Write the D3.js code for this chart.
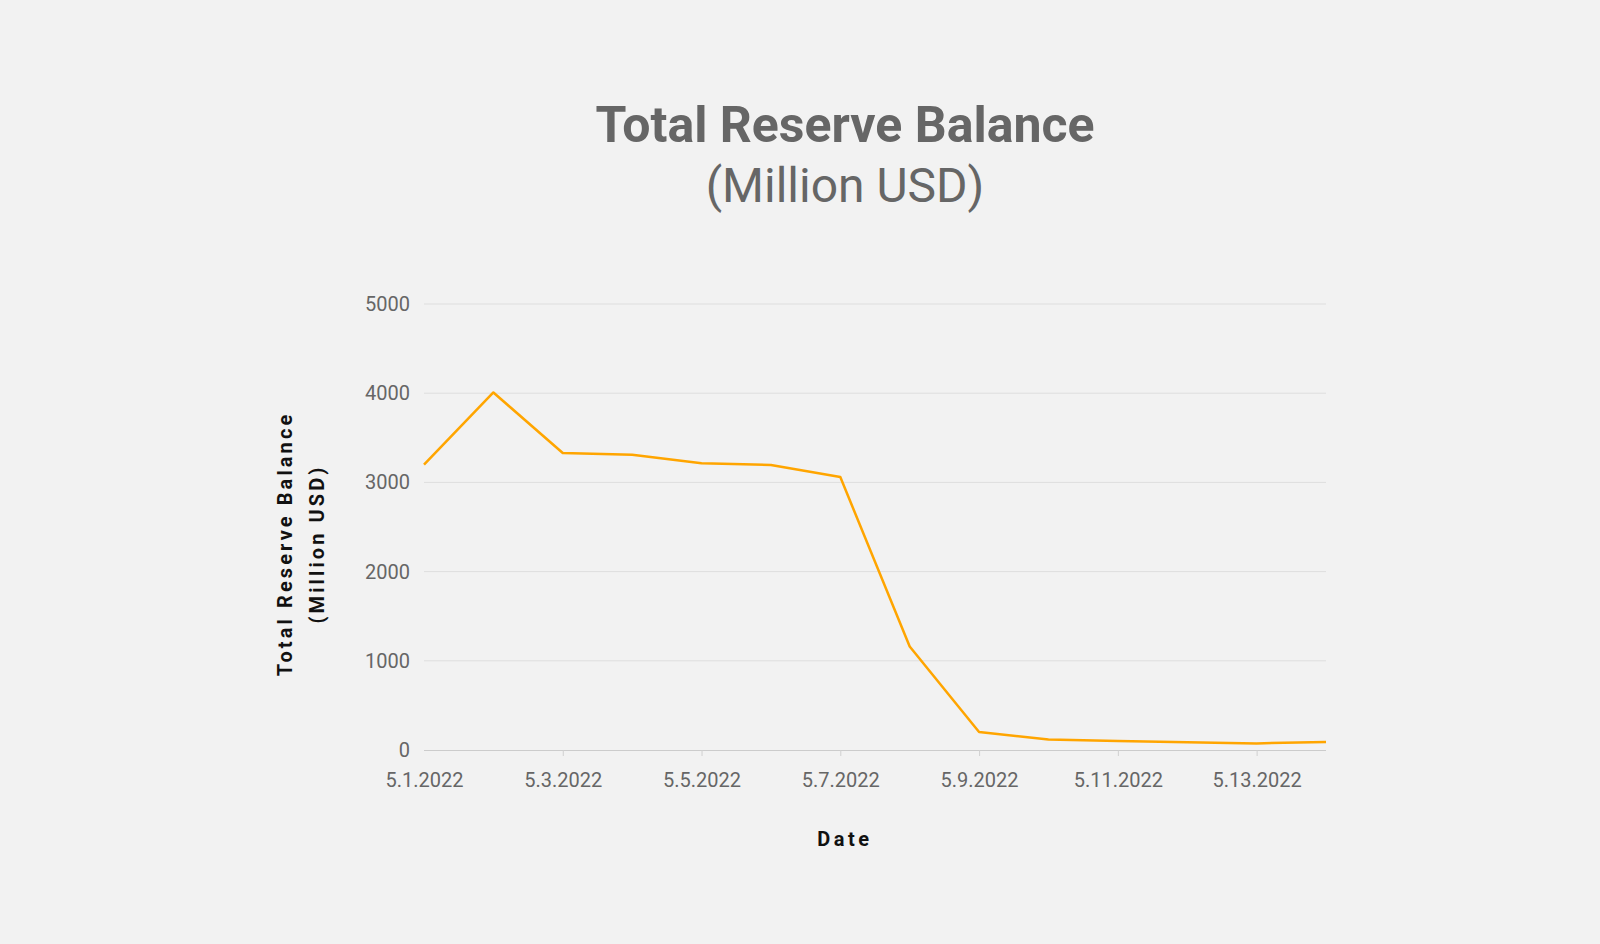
<!DOCTYPE html>
<html>
<head>
<meta charset="utf-8">
<script src="https://cdn.jsdelivr.net/npm/d3@7"></script>
<style>
  html, body { margin: 0; padding: 0; background: #f2f2f2; }
  svg { display: block; }
</style>
</head>
<body>
<svg id="chart" width="1600" height="944"></svg>
<script>
const dates = ["5.1.2022","5.2.2022","5.3.2022","5.4.2022","5.5.2022","5.6.2022","5.7.2022",
               "5.8.2022","5.9.2022","5.10.2022","5.11.2022","5.12.2022","5.13.2022","5.14.2022"];
const balance = [3198, 4008, 3330, 3310, 3215, 3195, 3060, 1160, 202, 117, 100, 87, 74, 90];
const yTicks = [0, 1000, 2000, 3000, 4000, 5000];
const xTickLabels = ["5.1.2022","5.3.2022","5.5.2022","5.7.2022","5.9.2022","5.11.2022","5.13.2022"];

const svg = d3.select("#chart");
const W = 1600, H = 944;
const margin = { left: 424, right: 1600 - 1326, top: 304, bottom: 944 - 750 };

svg.append("rect").attr("width", W).attr("height", H).attr("fill", "#f2f2f2");

const x = d3.scalePoint().domain(dates).range([margin.left, W - margin.right]).padding(0);
const y = d3.scaleLinear().domain([0, 5000]).range([H - margin.bottom, margin.top]);

const font = "Roboto, 'Noto Sans', sans-serif";

// Gridlines
svg.append("g")
  .selectAll("line")
  .data(yTicks.filter(d => d > 0))
  .join("line")
  .attr("x1", margin.left).attr("x2", W - margin.right)
  .attr("y1", d => y(d)).attr("y2", d => y(d))
  .attr("stroke", "#dedede").attr("stroke-width", 1);

// Y axis
const yAxis = svg.append("g")
  .attr("transform", `translate(${margin.left},0)`)
  .call(d3.axisLeft(y).tickValues(yTicks).tickFormat(d3.format("d")).tickSize(0).tickPadding(14));
yAxis.select(".domain").remove();
yAxis.selectAll("text")
  .attr("font-family", font).attr("font-size", 20).attr("fill", "#666");

// X axis
const xAxis = svg.append("g")
  .attr("transform", `translate(0,${y(0)})`)
  .call(d3.axisBottom(x).tickValues(xTickLabels).tickSize(6).tickPadding(17));
xAxis.select(".domain").attr("stroke", "#cccccc").attr("d", `M${margin.left},0.5H${W - margin.right}`);
xAxis.selectAll(".tick line").attr("stroke", "#d0d0d0")
  .attr("opacity", (d, i) => i === 0 ? 0 : 1);
xAxis.selectAll("text")
  .attr("font-family", font).attr("font-size", 20).attr("fill", "#666");

// Line
const line = d3.line()
  .x((d, i) => x(dates[i]))
  .y(d => y(d));
svg.append("path")
  .datum(balance)
  .attr("d", line)
  .attr("fill", "none")
  .attr("stroke", "#ffa500")
  .attr("stroke-width", 2.5)
  .attr("stroke-linejoin", "round");

// Title
svg.append("text")
  .attr("x", 845).attr("y", 142)
  .attr("text-anchor", "middle")
  .attr("font-family", font).attr("font-weight", 700).attr("font-size", 50)
  .attr("fill", "#666")
  .text("Total Reserve Balance");
svg.append("text")
  .attr("x", 845).attr("y", 202)
  .attr("text-anchor", "middle")
  .attr("font-family", font).attr("font-weight", 400).attr("font-size", 48)
  .attr("fill", "#666")
  .text("(Million USD)");

// Y axis title
const yt = svg.append("text")
  .attr("transform", "translate(0,544) rotate(-90)")
  .attr("text-anchor", "middle")
  .attr("font-family", font).attr("font-weight", 700).attr("font-size", 20)
  .attr("letter-spacing", 3.1)
  .attr("fill", "#111");
yt.append("tspan").attr("x", 0).attr("y", 292).text("Total Reserve Balance");
yt.append("tspan").attr("x", 0).attr("y", 324).text("(Million USD)");

// X axis title
svg.append("text")
  .attr("x", 845).attr("y", 846)
  .attr("text-anchor", "middle")
  .attr("font-family", font).attr("font-weight", 700).attr("font-size", 20)
  .attr("letter-spacing", 3.5)
  .attr("fill", "#111")
  .text("Date");
</script>
</body>
</html>
